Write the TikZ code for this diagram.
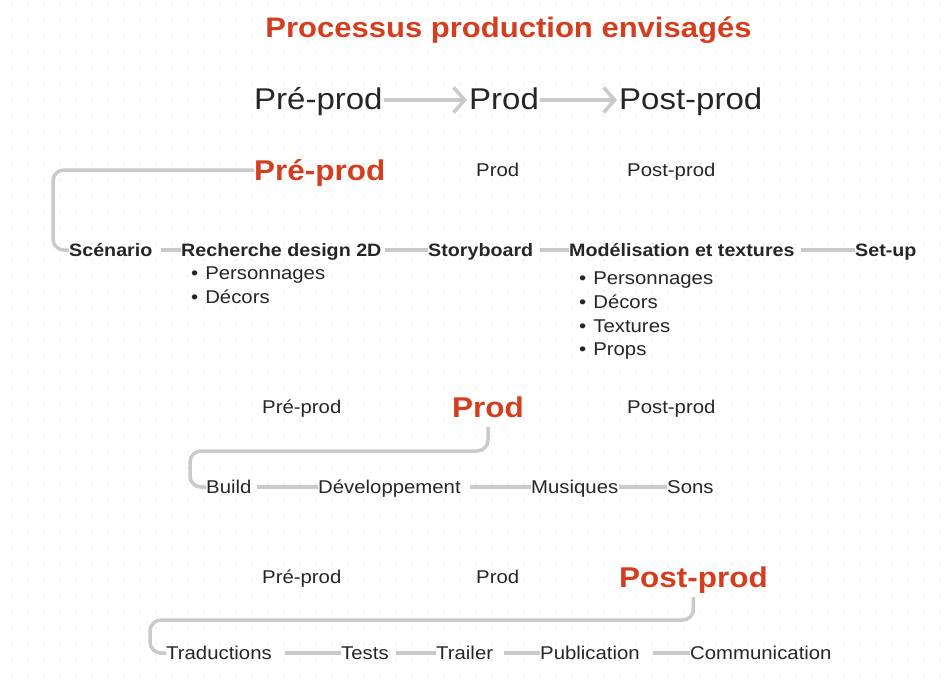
\documentclass[tikz,border=0pt]{standalone}
\usepackage{fontspec}
\setmainfont{Liberation Sans}[FakeStretch=1.1]
\usetikzlibrary{arrows.meta}
\definecolor{accent}{RGB}{212,62,30}
\definecolor{ink}{RGB}{38,38,38}
\definecolor{linec}{RGB}{202,202,202}
\definecolor{dotc}{RGB}{226,226,226}
\tikzset{
  lbl/.style={inner sep=0pt, anchor=base west, text=ink, font=\fontsize{18.5}{22}\selectfont},
  lblb/.style={inner sep=0pt, anchor=base west, text=ink, font=\fontsize{17.9}{22}\selectfont\bfseries},
  lblbig/.style={inner sep=0pt, anchor=base west, text=ink, font=\fontsize{30}{36}\selectfont},
  lblred/.style={inner sep=0pt, anchor=base west, text=accent, font=\fontsize{28.6}{34}\selectfont\bfseries},
  ttl/.style={inner sep=0pt, anchor=base, text=accent, font=\fontsize{28.2}{34}\selectfont\bfseries},
  conn/.style={draw=linec, line width=3.5pt, rounded corners=11pt},
  arr/.style={draw=linec, line width=3.5pt, -{Straight Barb[length=11pt,width=25pt,line width=3.5pt]}},
}
\begin{document}
\begin{tikzpicture}[x=1pt,y=-1pt]
\useasboundingbox (0,0) rectangle (945,690);
\fill[white] (0,0) rectangle (945,690);
\foreach \i in {0,...,58}{\foreach \j in {0,...,42}{\fill[dotc] (12+16*\i,4+16*\j) circle (0.9);}}
% title
\node[ttl] (title) at (508.5,38) {Processus production envisagés};
% row 2
\node[lblbig] (pre2) at (254,110) {Pré-prod};
\node[lblbig] (prod2) at (469,110) {Prod};
\node[lblbig] (post2) at (619,110) {Post-prod};
\draw[arr] ([shift={(1pt,10pt)}]pre2.base east) -- ([shift={(-2pt,10pt)}]prod2.base west);
\draw[arr] ([shift={(1pt,10pt)}]prod2.base east) -- ([shift={(-2pt,10pt)}]post2.base west);
% row 3
\node[lblred] (pre3) at (254,180) {Pré-prod};
\node[lbl] (prod3) at (476,176.5) {Prod};
\node[lbl] (post3) at (627,176.5) {Post-prod};
% row 4
\node[lblb] (scen) at (69,256) {Scénario};
\node[lblb] (rech) at (181,256) {Recherche design 2D};
\node[lblb] (story) at (428,256) {Storyboard};
\node[lblb] (model) at (569,256) {Modélisation et textures};
\node[lblb] (setup) at (855,256) {Set-up};
\node[lbl] (rb1) at (191,279.5) {\textbullet\hspace{7pt}Personnages};
\node[lbl] (rb2) at (191,303.5) {\textbullet\hspace{7pt}Décors};
\node[lbl] (mb1) at (579,284.5) {\textbullet\hspace{7pt}Personnages};
\node[lbl] (mb2) at (579,308.5) {\textbullet\hspace{7pt}Décors};
\node[lbl] (mb3) at (579,332.5) {\textbullet\hspace{7pt}Textures};
\node[lbl] (mb4) at (579,355.5) {\textbullet\hspace{7pt}Props};
\coordinate (c1) at (53,209);
\draw[conn] ([yshift=10pt]pre3.base west) -| (c1) |- ([yshift=6pt]scen.base west);
\draw[conn] ([shift={(8pt,6pt)}]scen.base east) -- ([yshift=6pt]rech.base west);
\draw[conn] ([shift={(3pt,6pt)}]rech.base east) -- ([yshift=6pt]story.base west);
\draw[conn] ([shift={(7pt,6pt)}]story.base east) -- ([yshift=6pt]model.base west);
\draw[conn] ([shift={(6pt,6pt)}]model.base east) -- ([yshift=6pt]setup.base west);
% row 5
\node[lbl] (pre5) at (262,413.5) {Pré-prod};
\node[lblred] (prod5) at (452,417) {Prod};
\node[lbl] (post5) at (627,413.5) {Post-prod};
% row 6
\node[lbl] (build) at (206,493.5) {Build};
\node[lbl] (dev) at (318,493.5) {Développement};
\node[lbl] (mus) at (531,493.5) {Musiques};
\node[lbl] (sons) at (667,493.5) {Sons};
\coordinate (c2) at (190,451);
\draw[conn] ([yshift=-10pt]prod5.base) |- (c2) |- ([yshift=6.5pt]build.base west);
\draw[conn] ([shift={(5pt,6.5pt)}]build.base east) -- ([yshift=6.5pt]dev.base west);
\draw[conn] ([shift={(9pt,6.5pt)}]dev.base east) -- ([yshift=6.5pt]mus.base west);
\draw[conn] ([yshift=6.5pt]mus.base east) -- ([yshift=6.5pt]sons.base west);
% row 7
\node[lbl] (pre7) at (262,583.5) {Pré-prod};
\node[lbl] (prod7) at (476,583.5) {Prod};
\node[lblred] (post7) at (619,587) {Post-prod};
% row 8
\node[lbl] (trad) at (166,659.5) {Traductions};
\node[lbl] (tests) at (341,659.5) {Tests};
\node[lbl] (trailer) at (436,659.5) {Trailer};
\node[lbl] (pub) at (540,659.5) {Publication};
\node[lbl] (comm) at (690,659.5) {Communication};
\coordinate (c3) at (150,620);
\draw[conn] ([yshift=-10pt]post7.base) |- (c3) |- ([yshift=6.5pt]trad.base west);
\draw[conn] ([shift={(13pt,6.5pt)}]trad.base east) -- ([yshift=6.5pt]tests.base west);
\draw[conn] ([shift={(7pt,6.5pt)}]tests.base east) -- ([yshift=6.5pt]trailer.base west);
\draw[conn] ([shift={(11pt,6.5pt)}]trailer.base east) -- ([yshift=6.5pt]pub.base west);
\draw[conn] ([shift={(13pt,6.5pt)}]pub.base east) -- ([yshift=6.5pt]comm.base west);
\end{tikzpicture}
\end{document}
